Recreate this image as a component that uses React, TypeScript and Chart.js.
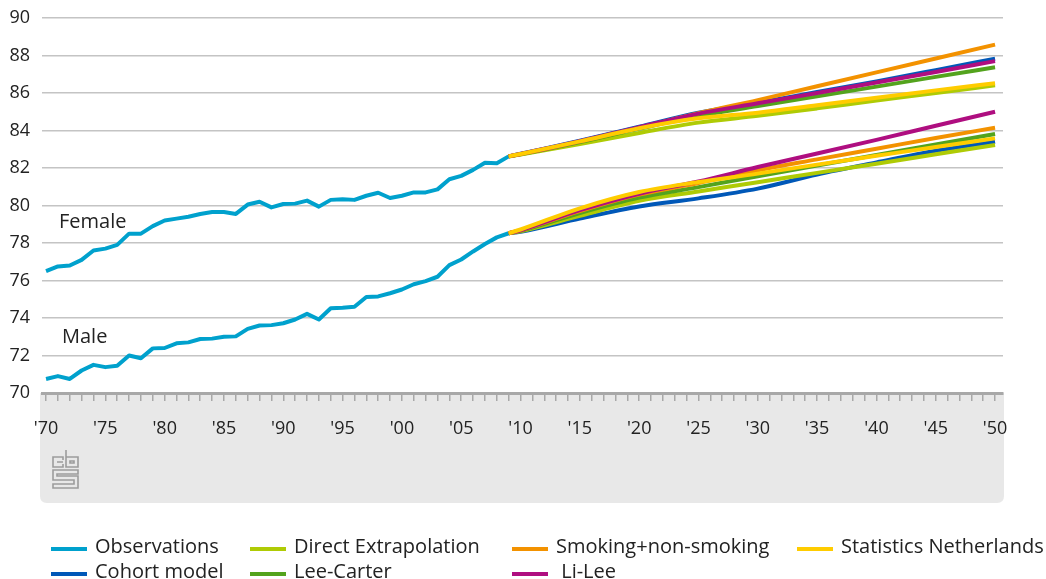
import React, { useEffect, useRef } from "react";
import { Chart, registerables } from "chart.js";

Chart.register(...registerables);

// ---------- data ----------
const obsStartYear = 1970;
const femaleObs = [
  76.5, 76.75, 76.8, 77.1, 77.6, 77.7, 77.9, 78.5, 78.5, 78.9,
  79.2, 79.3, 79.4, 79.55, 79.65, 79.65, 79.55, 80.05, 80.2, 79.9,
  80.08, 80.1, 80.26, 79.94, 80.3, 80.33, 80.3, 80.52, 80.68, 80.4,
  80.52, 80.7, 80.7, 80.86, 81.4, 81.58, 81.9, 82.28, 82.25, 82.62,
];
const maleObs = [
  70.75, 70.9, 70.75, 71.2, 71.5, 71.38, 71.45, 72.0, 71.85, 72.38,
  72.4, 72.65, 72.7, 72.88, 72.9, 73.0, 73.02, 73.42, 73.6, 73.62,
  73.72, 73.92, 74.22, 73.92, 74.52, 74.55, 74.6, 75.12, 75.15, 75.32,
  75.52, 75.8, 75.97, 76.2, 76.82, 77.12, 77.55, 77.95, 78.3, 78.52,
];

const projYears = [2009, 2010, 2015, 2020, 2025, 2030, 2035, 2040, 2045, 2050];

const femaleCohort = [82.62, 82.76, 83.45, 84.2, 84.95, 85.48, 86.05, 86.62, 87.22, 87.83];
const femaleDirect = [82.62, 82.72, 83.28, 83.87, 84.42, 84.78, 85.18, 85.6, 86.0, 86.41];
const femaleSmoking = [82.62, 82.74, 83.42, 84.15, 84.92, 85.62, 86.36, 87.1, 87.84, 88.58];
const femaleLeeCarter = [82.62, 82.73, 83.38, 84.1, 84.78, 85.3, 85.82, 86.34, 86.86, 87.37];
const femaleLiLee = [82.62, 82.75, 83.43, 84.18, 84.9, 85.45, 86.0, 86.56, 87.12, 87.7];
const femaleStatNL = [82.62, 82.75, 83.42, 84.12, 84.65, 84.95, 85.35, 85.75, 86.14, 86.52];

const maleCohort = [78.52, 78.6, 79.3, 79.95, 80.38, 80.9, 81.65, 82.3, 82.92, 83.4];
const maleDirect = [78.52, 78.63, 79.45, 80.25, 80.75, 81.24, 81.74, 82.23, 82.73, 83.23];
const maleSmoking = [78.52, 78.68, 79.7, 80.58, 81.2, 81.88, 82.46, 83.03, 83.6, 84.15];
const maleLeeCarter = [78.52, 78.65, 79.6, 80.42, 80.98, 81.56, 82.13, 82.69, 83.25, 83.81];
const maleLiLee = [78.52, 78.68, 79.75, 80.63, 81.28, 82.05, 82.77, 83.5, 84.25, 85.0];
const maleStatNL = [78.52, 78.72, 79.85, 80.72, 81.25, 81.7, 82.18, 82.65, 83.12, 83.58];

const xTickYears = Array.from({ length: 81 }, (_, i) => 1970 + i);
const yTicks = [70, 72, 74, 76, 78, 80, 82, 84, 86, 88, 90];

const seriesLabels = {
  obs: "Observations",
  cohort: "Cohort model",
  direct: "Direct Extrapolation",
  lee: "Lee-Carter",
  smoking: "Smoking+non-smoking",
  lilee: " Li-Lee",
  stat: "Statistics Netherlands",
};

const COLORS = {
  obs: "#00a1cd",
  cohort: "#0058b8",
  direct: "#afcb05",
  lee: "#53a31d",
  smoking: "#f39200",
  lilee: "#af0e80",
  stat: "#ffcc00",
};

const FONT = "'Open Sans', 'DejaVu Sans', sans-serif";

function pts(years: number[], vals: number[]) {
  return vals.map((v, i) => ({ x: years[i], y: v }));
}
function obsPts(vals: number[]) {
  return vals.map((v, i) => ({ x: obsStartYear + i, y: v }));
}

const bandPlugin = {
  id: "band",
  beforeDraw(chart: any) {
    const { ctx, chartArea } = chart;
    const left = 40;
    const right = 1004;
    const top = chartArea.bottom;
    const bottom = 503;
    const r = 7;
    ctx.save();
    ctx.fillStyle = "#e8e8e8";
    ctx.beginPath();
    ctx.moveTo(left, top);
    ctx.lineTo(right, top);
    ctx.lineTo(right, bottom - r);
    ctx.quadraticCurveTo(right, bottom, right - r, bottom);
    ctx.lineTo(left + r, bottom);
    ctx.quadraticCurveTo(left, bottom, left, bottom - r);
    ctx.closePath();
    ctx.fill();
    ctx.restore();
  },
  afterDraw(chart: any) {
    const { ctx } = chart;
    ctx.save();
    // Female / Male annotations
    ctx.fillStyle = "#222";
    ctx.font = `20px ${FONT}`;
    ctx.textBaseline = "middle";
    ctx.textAlign = "left";
    ctx.fillText("Female", 59, 222);
    ctx.fillText("Male", 62, 337);
    // CBS logo
    ctx.strokeStyle = "#9c9c9c";
    ctx.lineWidth = 1.6;
    ctx.beginPath();
    // c
    ctx.moveTo(63, 460);
    ctx.lineTo(63, 457);
    ctx.lineTo(53, 457);
    ctx.lineTo(53, 467);
    ctx.lineTo(63, 467);
    ctx.lineTo(63, 464);
    ctx.moveTo(63, 462);
    ctx.lineTo(57, 462);
    // b
    ctx.moveTo(66, 450);
    ctx.lineTo(66, 467);
    ctx.lineTo(78, 467);
    ctx.lineTo(78, 457);
    ctx.lineTo(66, 457);
    ctx.moveTo(70, 461);
    ctx.lineTo(74, 461);
    ctx.lineTo(74, 463);
    ctx.lineTo(70, 463);
    ctx.closePath();
    // S
    ctx.moveTo(78, 470);
    ctx.lineTo(53, 470);
    ctx.lineTo(53, 480);
    ctx.lineTo(74, 480);
    ctx.lineTo(74, 484);
    ctx.lineTo(53, 484);
    ctx.lineTo(53, 488);
    ctx.lineTo(78, 488);
    ctx.lineTo(78, 476);
    ctx.lineTo(57, 476);
    ctx.lineTo(57, 474);
    ctx.lineTo(78, 474);
    ctx.closePath();
    ctx.stroke();
    ctx.restore();
  },
};

const legendItems = [
  { key: "obs", x: 51, row: 0 },
  { key: "cohort", x: 51, row: 1 },
  { key: "direct", x: 250, row: 0 },
  { key: "lee", x: 250, row: 1 },
  { key: "smoking", x: 512, row: 0 },
  { key: "lilee", x: 512, row: 1 },
  { key: "stat", x: 797, row: 0 },
];

export default function App() {
  const canvasRef = useRef<HTMLCanvasElement | null>(null);

  useEffect(() => {
    if (!canvasRef.current) return;
    const mk = (label: string, data: any[], color: string, order: number, smooth: boolean) => ({
      label,
      data,
      borderColor: color,
      backgroundColor: color,
      borderWidth: 4,
      pointRadius: 0,
      fill: false,
      order,
      tension: smooth ? 0.3 : 0,
      cubicInterpolationMode: smooth ? "monotone" : "default",
      borderJoinStyle: "round",
    });
    const datasets = [
      mk(seriesLabels.obs, obsPts(femaleObs), COLORS.obs, 10, false),
      mk(seriesLabels.obs, obsPts(maleObs), COLORS.obs, 10, false),
      mk(seriesLabels.cohort, pts(projYears, femaleCohort), COLORS.cohort, 6, true),
      mk(seriesLabels.cohort, pts(projYears, maleCohort), COLORS.cohort, 6, true),
      mk(seriesLabels.direct, pts(projYears, femaleDirect), COLORS.direct, 5, true),
      mk(seriesLabels.direct, pts(projYears, maleDirect), COLORS.direct, 5, true),
      mk(seriesLabels.lee, pts(projYears, femaleLeeCarter), COLORS.lee, 4, true),
      mk(seriesLabels.lee, pts(projYears, maleLeeCarter), COLORS.lee, 4, true),
      mk(seriesLabels.smoking, pts(projYears, femaleSmoking), COLORS.smoking, 3, true),
      mk(seriesLabels.smoking, pts(projYears, maleSmoking), COLORS.smoking, 3, true),
      mk(seriesLabels.lilee, pts(projYears, femaleLiLee), COLORS.lilee, 2, true),
      mk(seriesLabels.lilee, pts(projYears, maleLiLee), COLORS.lilee, 2, true),
      mk(seriesLabels.stat, pts(projYears, femaleStatNL), COLORS.stat, 1, true),
      mk(seriesLabels.stat, pts(projYears, maleStatNL), COLORS.stat, 1, true),
    ];

    const chart = new Chart(canvasRef.current, {
      type: "line",
      data: { datasets: datasets as any },
      options: {
        animation: false,
        responsive: false,
        maintainAspectRatio: false,
        layout: { padding: { top: 18, right: 43, left: 0, bottom: 0 } },
        plugins: {
          legend: { display: false },
          tooltip: { enabled: false },
        },
        scales: {
          x: {
            type: "linear",
            min: 1969.66,
            max: 2050.67,
            afterBuildTicks: (scale: any) => {
              scale.ticks = xTickYears.map((v) => ({ value: v }));
            },
            afterFit: (scale: any) => {
              scale.height = 186;
              scale.paddingLeft = 0;
              scale.paddingRight = 0;
            },
            grid: {
              drawOnChartArea: false,
              drawTicks: true,
              tickLength: 8,
              color: "#a8a8a8",
              lineWidth: 1.5,
            },
            border: { display: true, color: "#a8a8a8", width: 3 },
            ticks: {
              autoSkip: false,
              maxRotation: 0,
              minRotation: 0,
              padding: 17,
              color: "#222",
              font: { family: FONT, size: 18 },
              callback: (v: any) => {
                const n = Number(v);
                return n % 5 === 0 ? "'" + String(n % 100).padStart(2, "0") : "";
              },
            },
          },
          y: {
            type: "linear",
            min: 70,
            max: 90,
            afterBuildTicks: (scale: any) => {
              scale.ticks = yTicks.map((v) => ({ value: v }));
            },
            afterFit: (scale: any) => {
              scale.width = 42;
              scale.paddingTop = 0;
              scale.paddingBottom = 0;
            },
            grid: { color: "#c4c4c4", lineWidth: 1.5, drawTicks: false },
            border: { display: false },
            ticks: {
              padding: 12,
              color: "#222",
              font: { family: FONT, size: 18 },
            },
          },
        },
      },
      plugins: [bandPlugin],
    });
    return () => chart.destroy();
  }, []);

  return (
    <div style={{ position: "fixed", left: 0, top: 0, width: 1046, height: 579, background: "#fff" }}>
      <canvas ref={canvasRef} width={1046} height={579} style={{ position: "absolute", left: 0, top: 0 }} />
      {legendItems.map((it) => {
        const cy = it.row === 0 ? 546 : 571;
        return (
          <div key={it.key}>
            <div
              style={{
                position: "absolute",
                left: it.x,
                top: cy + 1,
                width: 36,
                height: 4,
                background: (COLORS as any)[it.key],
              }}
            />
            <div
              style={{
                position: "absolute",
                left: it.x + 44,
                top: cy - 13,
                height: 26,
                lineHeight: "26px",
                fontFamily: FONT,
                fontSize: 20,
                color: "#222",
                whiteSpace: "pre",
              }}
            >
              {(seriesLabels as any)[it.key]}
            </div>
          </div>
        );
      })}
    </div>
  );
}
